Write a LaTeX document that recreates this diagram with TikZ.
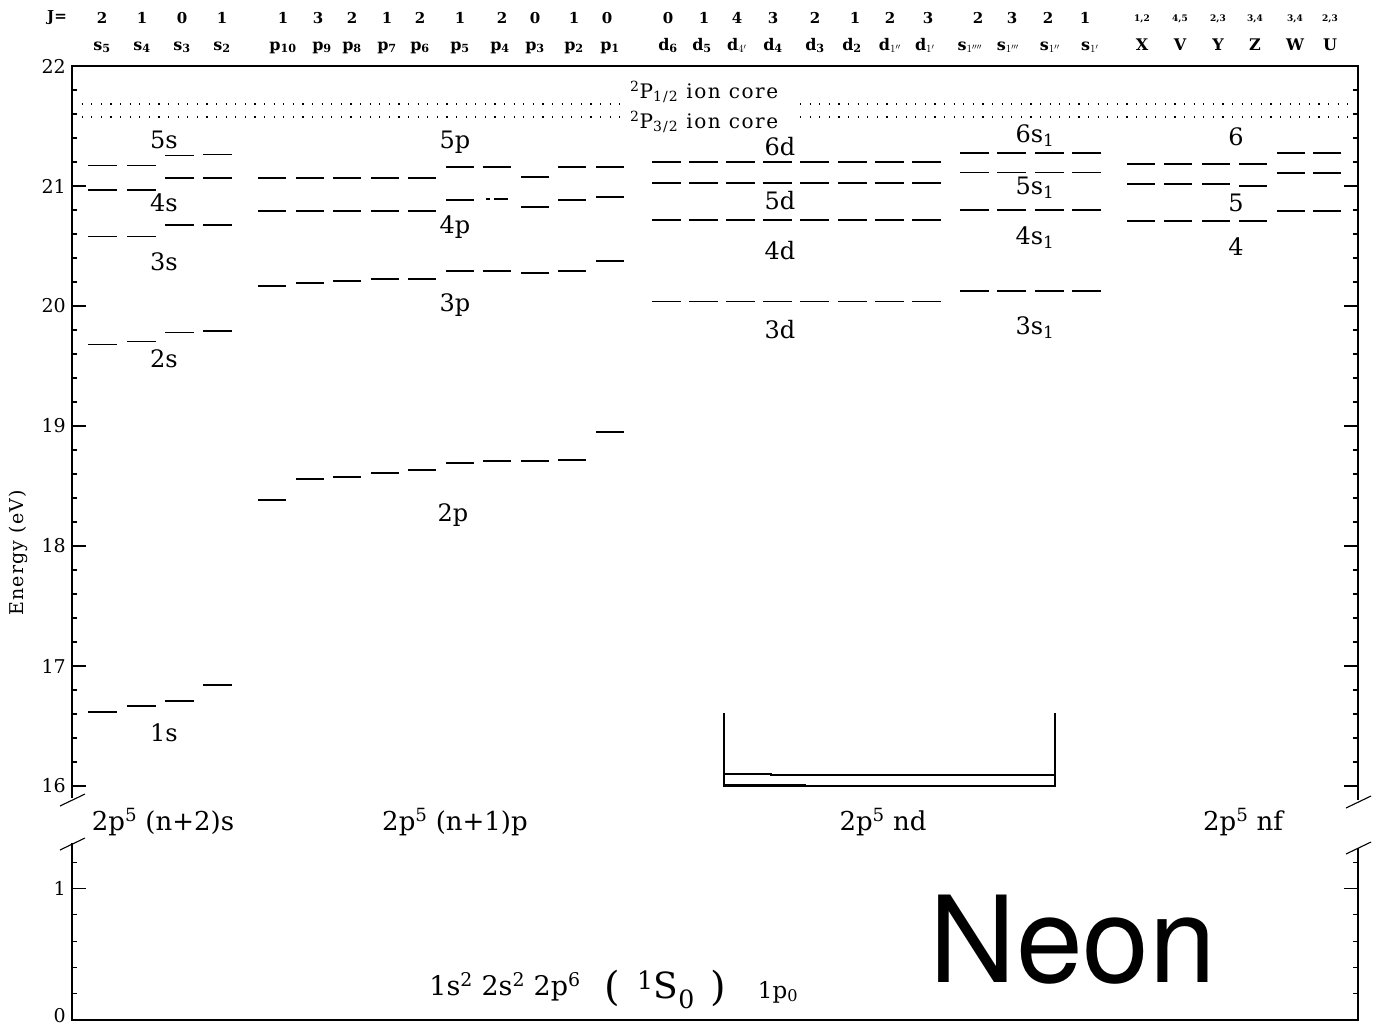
\documentclass[tikz,border=0pt]{standalone}
\usepackage{fontspec}
\setmainfont{DejaVu Serif}
\newfontfamily\neonfont{TeX Gyre Heros}
\newcommand\fsz[1]{\fontsize{#1}{#1}\selectfont}
\newcommand\sbs[1]{\textsubscript{#1}}
\newcommand\sps[1]{\textsuperscript{#1}}
\tikzset{
  lvl/.style={line width=1.5pt},
  ax/.style={line width=1.5pt},
  minor/.style={line width=1.2pt},
  dotline/.style={line width=1.2pt, dash pattern=on 1.2pt off 8.4pt},
  lab/.style={font=\fsz{24}, inner sep=0pt},
  grp/.style={font=\fsz{26}, inner sep=0pt},
  hdr/.style={font=\fsz{15}\bfseries, inner sep=0pt},
  hdrl/.style={font=\fsz{16}\bfseries, inner sep=0pt, anchor=base},
  hdrs/.style={font=\fsz{9}\bfseries, inner sep=0pt},
  ticklab/.style={font=\fsz{19}, inner sep=0pt, anchor=east},
  ionlab/.style={font=\fsz{20}\addfontfeature{LetterSpace=8}, inner sep=0pt, anchor=west},
}
\begin{document}
\begin{tikzpicture}[x=1pt,y=-1pt]
\fill[white] (0,0) rectangle (1378,1028);
\useasboundingbox (0,0) rectangle (1378,1028);

% ---------- frame / axes ----------
\draw[ax] (72,798) -- (72,66) -- (1358,66) -- (1358,800);
\draw[ax] (72,843) -- (72,1020) -- (1358,1020) -- (1358,848);
% axis breaks
\draw[line width=1.1pt] (60,806) -- (85,794);
\draw[line width=1.1pt] (60,850) -- (85,838);
\draw[line width=1.1pt] (1346,808) -- (1371,796);
\draw[line width=1.1pt] (1346,854) -- (1371,842);

% upper ticks
\foreach \e in {16,...,22}{
  \pgfmathsetmacro\yy{66+(22-\e)*120}
  \draw[ax] (72,\yy) -- (86,\yy);
  \draw[ax] (1358,\yy) -- (1344,\yy);
  \node[ticklab] (tk\e) at (66,\yy) {\e};
}
\foreach \i in {1,...,29}{
  \pgfmathsetmacro\yy{66+\i*24}
  \draw[minor] (72,\yy) -- (77,\yy);
  \draw[minor] (1358,\yy) -- (1353,\yy);
}
% lower ticks
\foreach \i in {1,...,6}{
  \pgfmathsetmacro\yy{1020-\i*26.3}
  \draw[minor] (72,\yy) -- (77,\yy);
  \draw[minor] (1358,\yy) -- (1353,\yy);
}
\draw[ax] (72,888.5) -- (86,888.5);
\draw[ax] (1358,888.5) -- (1344,888.5);
\node[ticklab] (tkone) at (66,888.5) {1};
\node[ticklab] (tkzero) at (66,1016) {0};

\node[rotate=90, font=\fsz{19}\addfontfeature{LetterSpace=6}, inner sep=0pt] (elab) at (18,553) {Energy (eV)};

% ---------- header ----------
\node[hdr] (jeq) at (57,18) {J=};
\foreach \x/\j [count=\k] in {102/2,142/1,182/0,222/1,
  283/1,318/3,352/2,387/1,420/2,460/1,502/2,535/0,574/1,607/0,
  668/0,704/1,737/4,773/3,815/2,855/1,890/2,928/3,
  978/2,1012/3,1048/2,1085/1}
  \node[hdr] (j\k) at (\x,18) {\j};
\foreach \x/\j [count=\k] in {1142/{1,2},1180/{4,5},1218/{2,3},1255/{3,4},1295/{3,4},1330/{2,3}}
  \node[hdrs] (jf\k) at (\x,19) {\j};
\foreach \x/\t [count=\k] in {102/{s\sbs{5}},142/{s\sbs{4}},182/{s\sbs{3}},222/{s\sbs{2}},
  283/{p\sbs{10}},322/{p\sbs{9}},352/{p\sbs{8}},387/{p\sbs{7}},420/{p\sbs{6}},460/{p\sbs{5}},
  500/{p\sbs{4}},535/{p\sbs{3}},574/{p\sbs{2}},610/{p\sbs{1}},
  668/{d\sbs{6}},702/{d\sbs{5}},737/{d$_{4'}$},773/{d\sbs{4}},815/{d\sbs{3}},852/{d\sbs{2}},
  890/{d$_{1''}$},925/{d$_{1'}$},
  970/{s$_{1''''}$},1008/{s$_{1'''}$},1050/{s$_{1''}$},1090/{s$_{1'}$},
  1142/X,1180/V,1218/Y,1255/Z,1295/W,1330/U}
  \node[hdrl] (h\k) at (\x,50) {\t};

% ---------- ion core limits ----------
\draw[dotline] (72,104) -- (625,104);
\draw[dotline] (800,104) -- (1358,104);
\draw[dotline] (72,117) -- (628,117);
\draw[dotline] (800,117) -- (1358,117);
\node[ionlab] (ion1) at (630,92) {\sps{2}P\sbs{1/2} ion core};
\node[ionlab] (ion2) at (630,122) {\sps{2}P\sbs{3/2} ion core};

% ---------- s levels ----------
\foreach \x/\y in {88/712,127/706,165/701,203/685,
  88/344.5,127/341.5,165/332.5,203/331,
  88/236.5,127/236.5,165/225,203/225,
  88/190,127/190,165/178,203/178,
  88/165.5,127/165.5,165/155.5,203/154.5}
  \draw[lvl] (\x,\y) -- ++(29,0);
\node[lab] (l5s) at (164,140) {5s};
\node[lab] (l4s) at (164,203) {4s};
\node[lab] (l3s) at (164,262) {3s};
\node[lab] (l2s) at (164,359) {2s};
\node[lab] (l1s) at (164,733) {1s};

% ---------- p levels ----------
\foreach \x/\a/\b/\d in {258/500/286/178, 296/479/283/178, 333/477/281/178,
  371/473/279/178, 408/470/279/178, 446/463/271/167, 483/461/271/167,
  521/461/273/177, 558/460/271/167, 596/432/261/167}{
  \draw[lvl] (\x,\a) -- ++(28,0);
  \draw[lvl] (\x,\b) -- ++(28,0);
  \draw[lvl] (\x,\d) -- ++(28,0);
}
\foreach \x/\c in {258/211,296/211,333/211,371/211,408/211,446/200,521/207,558/200,596/197}
  \draw[lvl] (\x,\c) -- ++(28,0);
\draw[lvl] (486,199) -- (490,199);
\draw[lvl] (494,199) -- (508,199);
\node[lab] (l5p) at (455,142) {5p};
\node[lab] (l4p) at (455,227) {4p};
\node[lab] (l3p) at (455,305) {3p};
\node[lab] (l2p) at (453,515) {2p};

% ---------- d levels ----------
\foreach \x in {652,689,726,763,800,838,875,912}
  \foreach \y in {301.5,220,183,162}
    \draw[lvl] (\x,\y) -- ++(29,0);
\node[lab] (l6d) at (780,147) {6d};
\node[lab] (l5d) at (780,201) {5d};
\node[lab] (l4d) at (780,251) {4d};
\node[lab] (l3d) at (780,330) {3d};

% ---------- s' levels ----------
\foreach \x in {960,997,1035,1072}
  \foreach \y in {291,210,172.5,153}
    \draw[lvl] (\x,\y) -- ++(29,0);
\node[lab] (l6s1) at (1035,136) {6s\sbs{1}};
\node[lab] (l5s1) at (1035,188) {5s\sbs{1}};
\node[lab] (l4s1) at (1035,238) {4s\sbs{1}};
\node[lab] (l3s1) at (1035,328) {3s\sbs{1}};

% ---------- f levels ----------
\foreach \x in {1127,1164,1202}
  \foreach \y in {164,184,221}
    \draw[lvl] (\x,\y) -- ++(28,0);
\foreach \y in {164,186,221}
  \draw[lvl] (1239,\y) -- ++(28,0);
\foreach \x in {1277,1313}
  \foreach \y in {153,173,211}
    \draw[lvl] (\x,\y) -- ++(28,0);
\node[lab] (l6f) at (1236,137) {6};
\node[lab] (l5f) at (1236,203) {5};
\node[lab] (l4f) at (1236,247) {4};

% ---------- bracket ----------
\draw[line width=1.3pt] (724,713) -- (724,786) -- (1055,786) -- (1055,713);
\draw[line width=1.3pt] (724,774) -- (771,774) -- (771,775) -- (1055,775);
\draw[line width=1.3pt] (724,785) -- (806,785);

% ---------- group labels ----------
\node[grp] (gs) at (163,822) {2p\sps{5} (n+2)s};
\node[grp] (gp) at (455,822) {2p\sps{5} (n+1)p};
\node[grp] (gd) at (883,822) {2p\sps{5} nd};
\node[grp] (gf) at (1243,822) {2p\sps{5} nf};

% ---------- ground state ----------
\node[font=\fsz{27}, inner sep=0pt] (gcfg) at (505,987) {1s\sps{2} 2s\sps{2} 2p\sps{6}};
\node[font=\fsz{40}, inner sep=0pt] (gpl) at (612,988) {(};
\node[font=\fsz{36}, inner sep=0pt] (gterm) at (666,990) {\sps{1}S\sbs{0}};
\node[font=\fsz{40}, inner sep=0pt] (gpr) at (718,988) {)};
\node[font=\fsz{23}, inner sep=0pt] (gpas) at (778,992) {1p\sbs{0}};

\node[font=\neonfont\fsz{120}, inner sep=0pt] (neon) at (1073,940) {Neon};
\end{tikzpicture}
\end{document}
